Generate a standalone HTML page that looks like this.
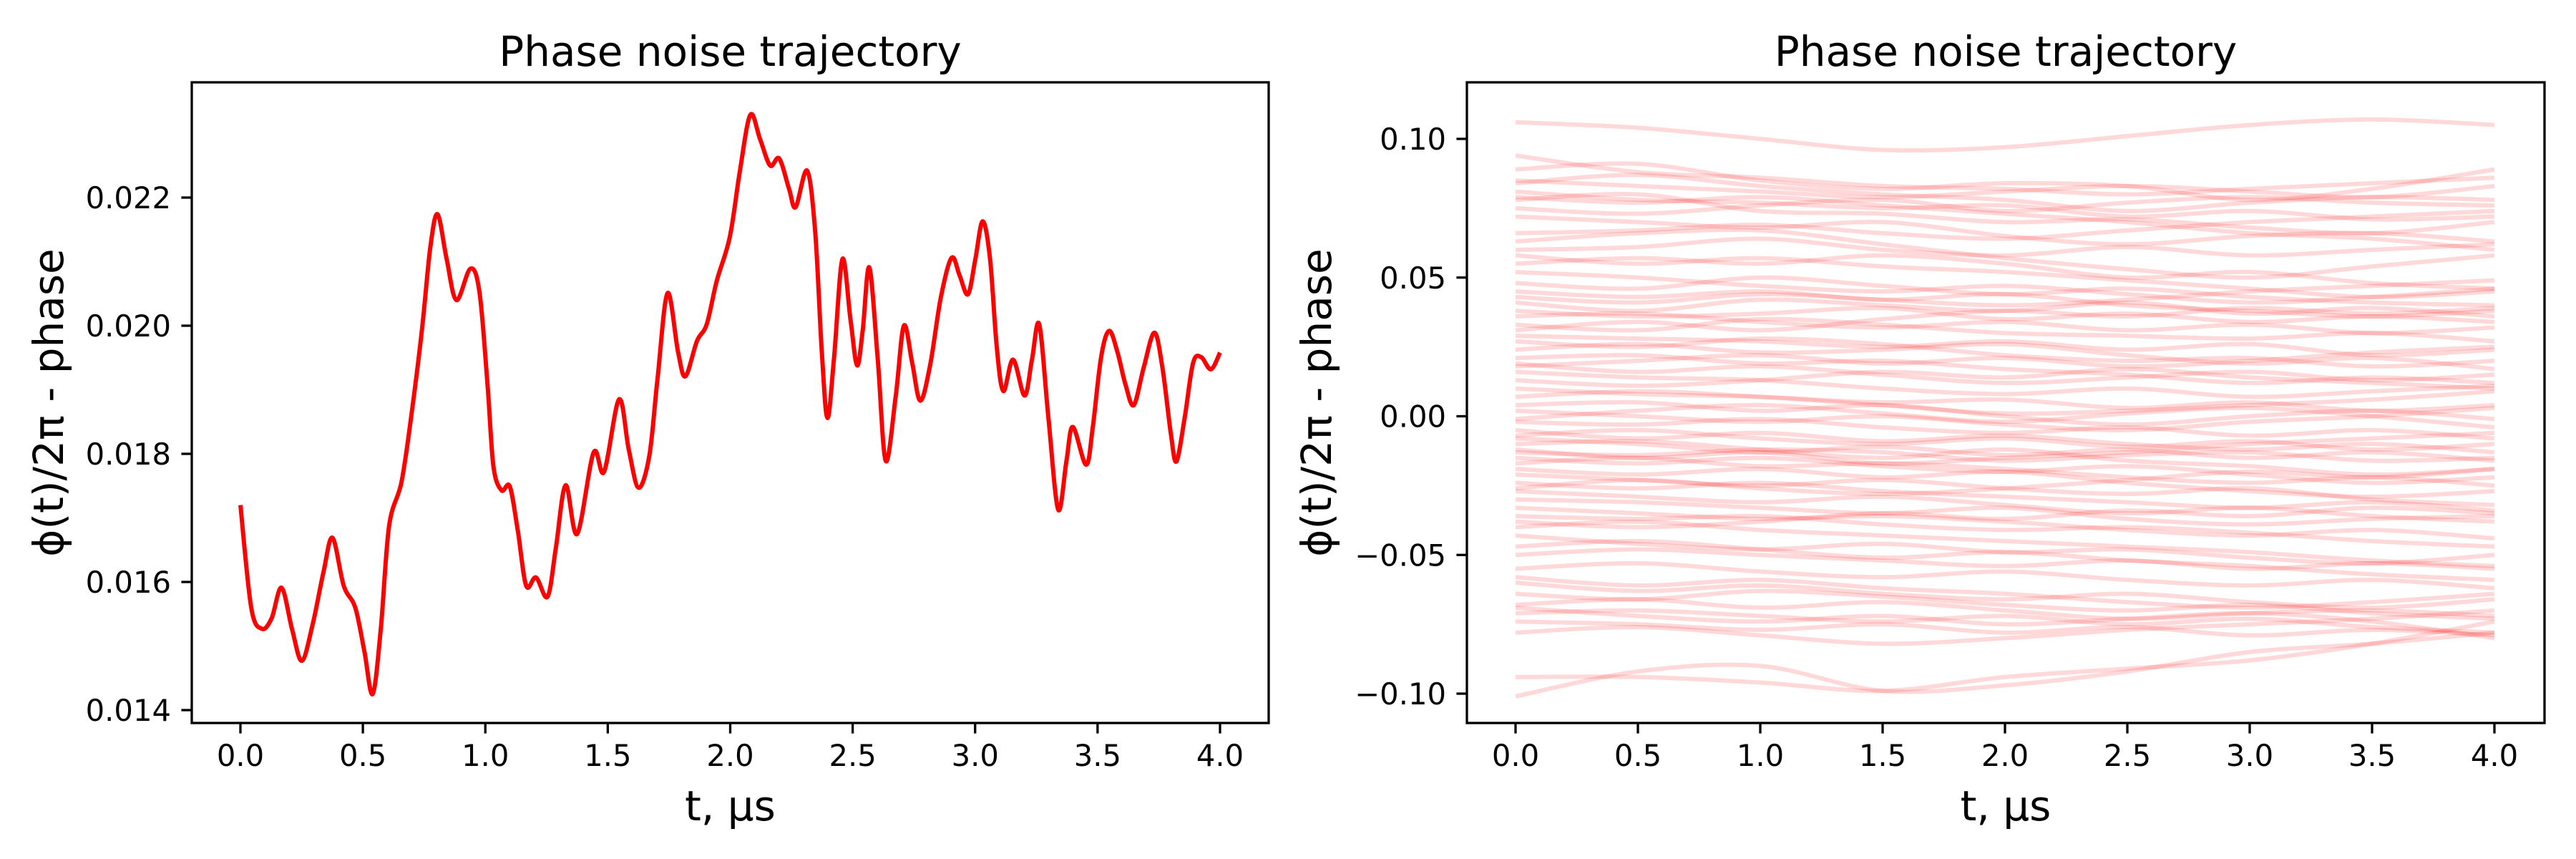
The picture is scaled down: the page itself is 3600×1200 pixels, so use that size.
<!DOCTYPE html>
<html><head><meta charset="utf-8">
<style>
html,body{margin:0;padding:0;background:#fff;}
svg{display:block;}
text{font-family:"DejaVu Sans","Liberation Sans",sans-serif;fill:#000;}
</style></head>
<body>
<svg id="chart" width="3600" height="1200" viewBox="0 0 3600 1200" xmlns="http://www.w3.org/2000/svg"></svg>
<script>
// ---- Left panel data (single trajectory) ----
const leftT = [0,0.044,0.087,0.127,0.168,0.211,0.251,0.295,0.339,0.376,0.422,0.469,0.506,0.54,0.573,0.607,0.657,0.697,0.741,0.775,0.805,0.842,0.882,0.939,0.976,1.009,1.033,1.066,1.1,1.133,1.167,1.207,1.254,1.288,1.328,1.375,1.442,1.485,1.546,1.586,1.626,1.67,1.703,1.744,1.787,1.817,1.864,1.904,1.945,1.998,2.039,2.082,2.122,2.163,2.2,2.24,2.267,2.314,2.347,2.374,2.397,2.424,2.458,2.491,2.518,2.541,2.568,2.602,2.635,2.676,2.709,2.743,2.776,2.816,2.86,2.904,2.937,2.971,3.001,3.031,3.061,3.088,3.115,3.155,3.202,3.232,3.262,3.299,3.339,3.373,3.399,3.453,3.48,3.514,3.547,3.581,3.614,3.648,3.688,3.732,3.765,3.799,3.822,3.856,3.89,3.923,3.963,4.0];
const leftV = [0.0172,0.0156,0.01527,0.01543,0.01591,0.01526,0.01477,0.01534,0.01615,0.01669,0.01594,0.0156,0.01492,0.01425,0.01526,0.01687,0.01755,0.01857,0.01993,0.02121,0.02174,0.02104,0.0204,0.02089,0.02053,0.01908,0.01781,0.01743,0.01749,0.01679,0.01594,0.01607,0.01577,0.01653,0.01751,0.01675,0.01802,0.01772,0.01885,0.01806,0.01747,0.01798,0.01917,0.02051,0.01959,0.01921,0.01976,0.02002,0.0207,0.02138,0.0224,0.02329,0.02291,0.0225,0.02261,0.02214,0.02185,0.02242,0.02146,0.01959,0.01856,0.0195,0.02104,0.0201,0.01938,0.01993,0.02091,0.0195,0.01789,0.01891,0.02,0.01942,0.01883,0.01938,0.02044,0.02106,0.02078,0.02049,0.02104,0.02163,0.02104,0.01968,0.01898,0.01947,0.01891,0.01947,0.02002,0.01857,0.01713,0.01789,0.01842,0.01783,0.0184,0.0195,0.01992,0.01959,0.01908,0.01876,0.01934,0.01989,0.01934,0.01832,0.01788,0.01857,0.01942,0.01951,0.01932,0.01958];
const leftXTicks = [0,0.5,1,1.5,2,2.5,3,3.5,4];
const leftXTickLabels = ["0.0","0.5","1.0","1.5","2.0","2.5","3.0","3.5","4.0"];
const leftYTicks = [0.014,0.016,0.018,0.020,0.022];
const leftYTickLabels = ["0.014","0.016","0.018","0.020","0.022"];

// ---- Right panel data (ensemble of trajectories, sampled every 0.5 µs) ----
const rightT = [0,0.5,1,1.5,2,2.5,3,3.5,4];
const rightTraces = [
[0.106,0.104,0.100,0.096,0.097,0.101,0.105,0.107,0.105],
[0.094,0.088,0.086,0.083,0.082,0.080,0.082,0.084,0.086],
[0.089,0.091,0.085,0.082,0.084,0.083,0.078,0.082,0.089],
[0.084,0.087,0.083,0.080,0.078,0.074,0.077,0.079,0.078],
[0.081,0.078,0.077,0.075,0.076,0.072,0.074,0.071,0.072],
[0.078,0.080,0.074,0.073,0.070,0.071,0.068,0.066,0.070],
[0.075,0.073,0.076,0.078,0.074,0.077,0.079,0.077,0.076],
[0.072,0.070,0.068,0.070,0.065,0.062,0.065,0.066,0.063],
[0.063,0.066,0.067,0.062,0.057,0.053,0.050,0.054,0.058],
[0.060,0.061,0.064,0.060,0.058,0.061,0.058,0.060,0.062],
[0.058,0.055,0.057,0.054,0.052,0.049,0.046,0.043,0.045],
[0.055,0.057,0.055,0.058,0.055,0.050,0.052,0.048,0.046],
[0.048,0.046,0.050,0.047,0.044,0.046,0.043,0.041,0.040],
[0.045,0.043,0.045,0.042,0.044,0.040,0.038,0.036,0.038],
[0.041,0.038,0.042,0.040,0.038,0.041,0.037,0.039,0.036],
[0.038,0.036,0.037,0.039,0.035,0.037,0.034,0.036,0.034],
[0.036,0.037,0.034,0.032,0.034,0.031,0.033,0.030,0.032],
[0.033,0.031,0.035,0.033,0.030,0.029,0.028,0.030,0.027],
[0.029,0.028,0.027,0.025,0.027,0.024,0.026,0.022,0.024],
[0.027,0.025,0.028,0.026,0.022,0.020,0.021,0.018,0.020],
[0.024,0.026,0.023,0.024,0.026,0.022,0.019,0.021,0.017],
[0.021,0.022,0.019,0.020,0.017,0.015,0.012,0.014,0.012],
[0.019,0.016,0.018,0.015,0.012,0.014,0.016,0.013,0.015],
[0.016,0.014,0.013,0.010,0.008,0.010,0.007,0.009,0.011],
[0.010,0.008,0.007,0.005,0.006,0.003,0.005,0.002,0.004],
[0.007,0.009,0.007,0.004,0.001,0.002,0.004,0.006,0.009],
[0.004,0.005,0.002,0.004,0.000,-0.003,0.000,0.002,-0.001],
[0.002,0.000,-0.002,0.000,-0.003,-0.005,-0.002,0.000,0.003],
[-0.002,-0.003,-0.001,-0.004,-0.006,-0.004,-0.007,-0.005,-0.008],
[-0.005,-0.008,-0.006,-0.009,-0.007,-0.010,-0.012,-0.010,-0.013],
[-0.008,-0.010,-0.013,-0.011,-0.014,-0.012,-0.015,-0.013,-0.016],
[-0.010,-0.009,-0.012,-0.015,-0.012,-0.016,-0.018,-0.021,-0.019],
[-0.013,-0.014,-0.012,-0.013,-0.016,-0.014,-0.013,-0.016,-0.015],
[-0.015,-0.017,-0.015,-0.018,-0.020,-0.018,-0.021,-0.024,-0.022],
[-0.017,-0.015,-0.018,-0.017,-0.019,-0.022,-0.024,-0.022,-0.025],
[-0.019,-0.021,-0.019,-0.022,-0.020,-0.024,-0.027,-0.029,-0.027],
[-0.021,-0.023,-0.025,-0.023,-0.026,-0.028,-0.026,-0.030,-0.032],
[-0.024,-0.026,-0.024,-0.027,-0.029,-0.031,-0.033,-0.031,-0.034],
[-0.027,-0.029,-0.031,-0.029,-0.032,-0.035,-0.033,-0.036,-0.038],
[-0.030,-0.031,-0.033,-0.035,-0.033,-0.037,-0.039,-0.037,-0.036],
[-0.033,-0.035,-0.037,-0.036,-0.038,-0.041,-0.043,-0.041,-0.044],
[-0.036,-0.037,-0.036,-0.039,-0.041,-0.040,-0.042,-0.045,-0.047],
[-0.040,-0.038,-0.041,-0.043,-0.045,-0.047,-0.049,-0.052,-0.054],
[-0.043,-0.046,-0.048,-0.046,-0.049,-0.048,-0.051,-0.053,-0.050],
[-0.050,-0.048,-0.050,-0.052,-0.054,-0.052,-0.055,-0.053,-0.055],
[-0.055,-0.053,-0.056,-0.058,-0.056,-0.059,-0.061,-0.059,-0.062],
[-0.060,-0.063,-0.061,-0.064,-0.066,-0.064,-0.067,-0.069,-0.066],
[-0.064,-0.066,-0.063,-0.065,-0.068,-0.070,-0.068,-0.071,-0.073],
[-0.068,-0.066,-0.069,-0.067,-0.070,-0.073,-0.071,-0.070,-0.072],
[-0.071,-0.070,-0.072,-0.074,-0.072,-0.075,-0.073,-0.076,-0.078],
[-0.074,-0.075,-0.077,-0.075,-0.078,-0.076,-0.079,-0.077,-0.079],
[-0.078,-0.076,-0.079,-0.082,-0.080,-0.077,-0.075,-0.073,-0.070],
[-0.094,-0.094,-0.096,-0.099,-0.094,-0.091,-0.088,-0.082,-0.074],
[-0.101,-0.092,-0.090,-0.099,-0.097,-0.092,-0.085,-0.082,-0.078],
[0.079,0.077,0.079,0.076,0.073,0.070,0.066,0.064,0.060],
[0.066,0.067,0.069,0.066,0.064,0.067,0.070,0.072,0.074],
[0.052,0.050,0.047,0.045,0.047,0.044,0.041,0.043,0.046],
[0.031,0.034,0.031,0.035,0.038,0.036,0.039,0.037,0.039],
[0.013,0.011,0.013,0.016,0.014,0.017,0.014,0.012,0.010],
[-0.001,0.002,0.004,0.001,-0.002,0.001,0.003,0.000,-0.004],
[-0.012,-0.015,-0.013,-0.017,-0.015,-0.013,-0.010,-0.008,-0.006],
[-0.026,-0.023,-0.026,-0.028,-0.026,-0.023,-0.020,-0.022,-0.019],
[-0.038,-0.040,-0.038,-0.035,-0.037,-0.034,-0.036,-0.033,-0.035],
[-0.047,-0.045,-0.048,-0.051,-0.049,-0.052,-0.054,-0.057,-0.059],
[-0.058,-0.061,-0.059,-0.062,-0.064,-0.067,-0.069,-0.067,-0.064],
[-0.069,-0.072,-0.074,-0.072,-0.075,-0.073,-0.071,-0.074,-0.080],
[0.085,0.083,0.081,0.079,0.081,0.083,0.081,0.079,0.083],
[0.043,0.041,0.044,0.042,0.040,0.042,0.045,0.047,0.049],
[0.018,0.020,0.022,0.019,0.021,0.018,0.020,0.023,0.025],
[-0.007,-0.005,-0.008,-0.010,-0.008,-0.011,-0.009,-0.012,-0.010]
];
const rightXTicks = [0,0.5,1,1.5,2,2.5,3,3.5,4];
const rightXTickLabels = ["0.0","0.5","1.0","1.5","2.0","2.5","3.0","3.5","4.0"];
const rightYTicks = [-0.10,-0.05,0,0.05,0.10];
const rightYTickLabels = ["\u22120.10","\u22120.05","0.00","0.05","0.10"];

const NS = "http://www.w3.org/2000/svg";
const svg = document.getElementById('chart');
function mk(tag, attrs, parent){
  const e = document.createElementNS(NS, tag);
  for (const k in attrs) e.setAttribute(k, attrs[k]);
  (parent||svg).appendChild(e);
  return e;
}
function linScale(d0,d1,r0,r1){ return v => r0 + (v-d0)/(d1-d0)*(r1-r0); }
function smoothPath(pts){
  let d = "M" + pts[0][0].toFixed(1) + "," + pts[0][1].toFixed(1);
  for (let i=0;i<pts.length-1;i++){
    const p0=pts[Math.max(0,i-1)], p1=pts[i], p2=pts[i+1], p3=pts[Math.min(pts.length-1,i+2)];
    const c1x=p1[0]+(p2[0]-p0[0])/6, c1y=p1[1]+(p2[1]-p0[1])/6;
    const c2x=p2[0]-(p3[0]-p1[0])/6, c2y=p2[1]-(p3[1]-p1[1])/6;
    d += " C"+c1x.toFixed(1)+","+c1y.toFixed(1)+" "+c2x.toFixed(1)+","+c2y.toFixed(1)+" "+p2[0].toFixed(1)+","+p2[1].toFixed(1);
  }
  return d;
}

function drawAxes(g, box, xs, ys, xTicks, xLabels, yTicks, yLabels, ylabX){
  for (let i=0;i<xTicks.length;i++){
    const x = xs(xTicks[i]);
    const t = mk('line',{x1:x,y1:box.b,x2:x,y2:box.b+14.6,stroke:'#000','stroke-width':3.3},g);
    
    
    const l = mk('text',{x:x,y:box.b+60,'font-size':41.7,'text-anchor':'middle'},g);
    l.textContent = xLabels[i];
    
    
  }
  for (let i=0;i<yTicks.length;i++){
    const y = ys(yTicks[i]);
    const t = mk('line',{x1:box.l-14.6,y1:y,x2:box.l,y2:y,stroke:'#000','stroke-width':3.3},g);
    
    
    const l = mk('text',{x:box.l-29,y:y+15,'font-size':41.7,'text-anchor':'end'},g);
    l.textContent = yLabels[i];
    
    
  }
  const fr = mk('rect',{x:box.l,y:box.t,width:box.r-box.l,height:box.b-box.t,fill:'none',stroke:'#000','stroke-width':3.3},g);
  
  
  const cx = (box.l+box.r)/2;
  const ti = mk('text',{x:cx,y:92,'font-size':58,'text-anchor':'middle'},g);
  ti.textContent = 'Phase noise trajectory';
  
  
  const xl = mk('text',{x:cx,y:1146,'font-size':58,'text-anchor':'middle'},g);
  xl.textContent = 't, \u03bcs';
  
  
  const cy = (box.t+box.b)/2;
  const yl = mk('text',{x:ylabX,y:cy,'font-size':58,'text-anchor':'middle',transform:'rotate(-90 '+ylabX+' '+cy+')'},g);
  yl.textContent = '\u03d5(t)/2\u03c0 - phase';
  
  
}

// Left panel
const gL = mk('g',{});


const boxL = {l:268,r:1773,t:115,b:1010};
const xL = linScale(0,4,336,1705);
const yL = linScale(0.014,0.022,992,276);
const lp = mk('path',{d:smoothPath(leftT.map((t,i)=>[xL(t),yL(leftV[i])])),fill:'none',stroke:'#ff0000','stroke-width':6,'stroke-linejoin':'round','stroke-linecap':'butt'},gL);


drawAxes(gL, boxL, xL, yL, leftXTicks, leftXTickLabels, leftYTicks, leftYTickLabels, 88);

// Right panel
const gR = mk('g',{});


const boxR = {l:2050,r:3556,t:115,b:1010};
const xR = linScale(0,4,2118,3486);
const yR = linScale(-0.10,0.10,969,194);
rightTraces.forEach(tr=>{
  const p = mk('path',{d:smoothPath(rightT.map((t,i)=>[xR(t),yR(tr[i])])),fill:'none',stroke:'#ff0000','stroke-opacity':0.15,'stroke-width':6},gR);
  
  
});
drawAxes(gR, boxR, xR, yR, rightXTicks, rightXTickLabels, rightYTicks, rightYTickLabels, 1860);
</script>
</body></html>
